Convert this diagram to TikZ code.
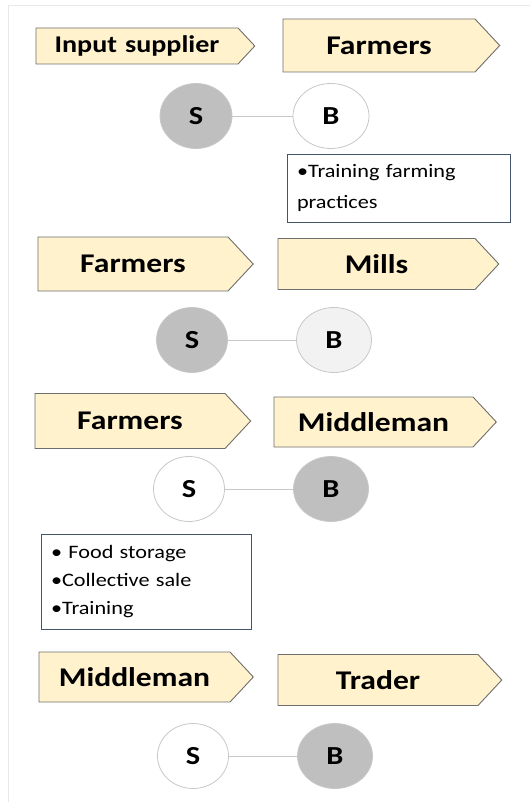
\documentclass[tikz,border=0pt]{standalone}
\usepackage{fontspec}
\setmainfont[FakeStretch=1.17]{Carlito}
\usepackage{tikz}
\usetikzlibrary{shapes.symbols,shapes.geometric,positioning}
\definecolor{stagefill}{RGB}{255, 242, 204}
\definecolor{stageline}{RGB}{110, 110, 110}
\definecolor{roledark}{RGB}{191, 191, 191}
\definecolor{rolepale}{RGB}{242, 242, 242}
\definecolor{roleline}{RGB}{200, 200, 200}
\definecolor{noteline}{RGB}{68, 84, 106}
\definecolor{framegray}{RGB}{232, 232, 232}

\begin{document}
\begin{tikzpicture}[x=1pt, y=-1pt,
		stagebox/.style={shape=signal, signal to=east, signal pointer angle=94, draw=stageline, fill=stagefill, line width=0.9pt, anchor=west, inner sep=0pt, outer sep=0pt, align=center, font=\fontsize{27}{30}\selectfont\bfseries},
		roleNode/.style={ellipse, draw=roleline, line width=0.8pt, minimum width=72pt, minimum height=65pt, inner sep=0pt, font=\fontsize{26}{28}\selectfont\bfseries},
		linkLine/.style={draw=roleline, line width=0.9pt},
		notebox/.style={draw=noteline, line width=0.8pt, anchor=north west, align=left, inner xsep=10pt, inner ysep=0pt, outer sep=0pt, font=\fontsize{19}{29}\selectfont}
		]
	\useasboundingbox (0,0) rectangle (530,802);
	\draw [framegray, line width=0.8pt] (8,802) -- (8,5) -- (530,5);
	
	% input supplier -> farmers
	\node [stagebox, text width=202pt, minimum height=36pt, font=\fontsize{24}{26}\selectfont\bfseries] (ins1) at (36,46) {Input supplier};
	\node [stagebox, text width=192pt, minimum height=53pt] (far1) at (283,45.5) {Farmers};
	\node [roleNode, fill=roledark] (s1) at (196,116) {S};
	\node [roleNode, fill=white, minimum width=76pt] (b1) at (331,116) {B};
	\draw [linkLine] (s1) -- (b1);
	\node [notebox, text width=203pt, minimum height=68pt, font=\fontsize{19}{31}\selectfont] (n1) at (287,154) {•Training farming\\practices};
	
	% farmers -> mills
	\node [stagebox, text width=190pt, minimum height=54pt] (far2) at (38,264) {Farmers};
	\node [stagebox, text width=197pt, minimum height=51pt] (mil2) at (278,264) {Mills};
	\node [roleNode, fill=roledark, minimum width=71pt] (s2) at (192,340) {S};
	\node [roleNode, fill=rolepale, minimum width=75pt] (b2) at (334,340) {B};
	\draw [linkLine] (s2) -- (b2);
	
	% farmers -> middleman
	\node [stagebox, text width=190pt, minimum height=55pt] (far3) at (35,421) {Farmers};
	\node [stagebox, text width=199pt, minimum height=50pt] (mid3) at (274,422) {Middleman};
	\node [roleNode, fill=white, minimum width=71pt] (s3) at (189,489) {S};
	\node [roleNode, fill=roledark, minimum width=75pt] (b3) at (331,489) {B};
	\draw [linkLine] (s3) -- (b3);
	\node [notebox, text width=190pt, minimum height=95pt, font=\fontsize{19}{28}\selectfont] (n3) at (41,534) {• Food storage\\•Collective sale\\•Training};
	
	% middleman -> trader
	\node [stagebox, text width=191pt, minimum height=50pt] (mid4) at (39,677) {Middleman};
	\node [stagebox, text width=200pt, minimum height=51pt] (tra4) at (278,680) {Trader};
	\node [roleNode, fill=white, minimum width=71pt] (s4) at (193,756) {S};
	\node [roleNode, fill=roledark, minimum width=75pt] (b4) at (335,756) {B};
	\draw [linkLine] (s4) -- (b4);
\end{tikzpicture}
\end{document}
